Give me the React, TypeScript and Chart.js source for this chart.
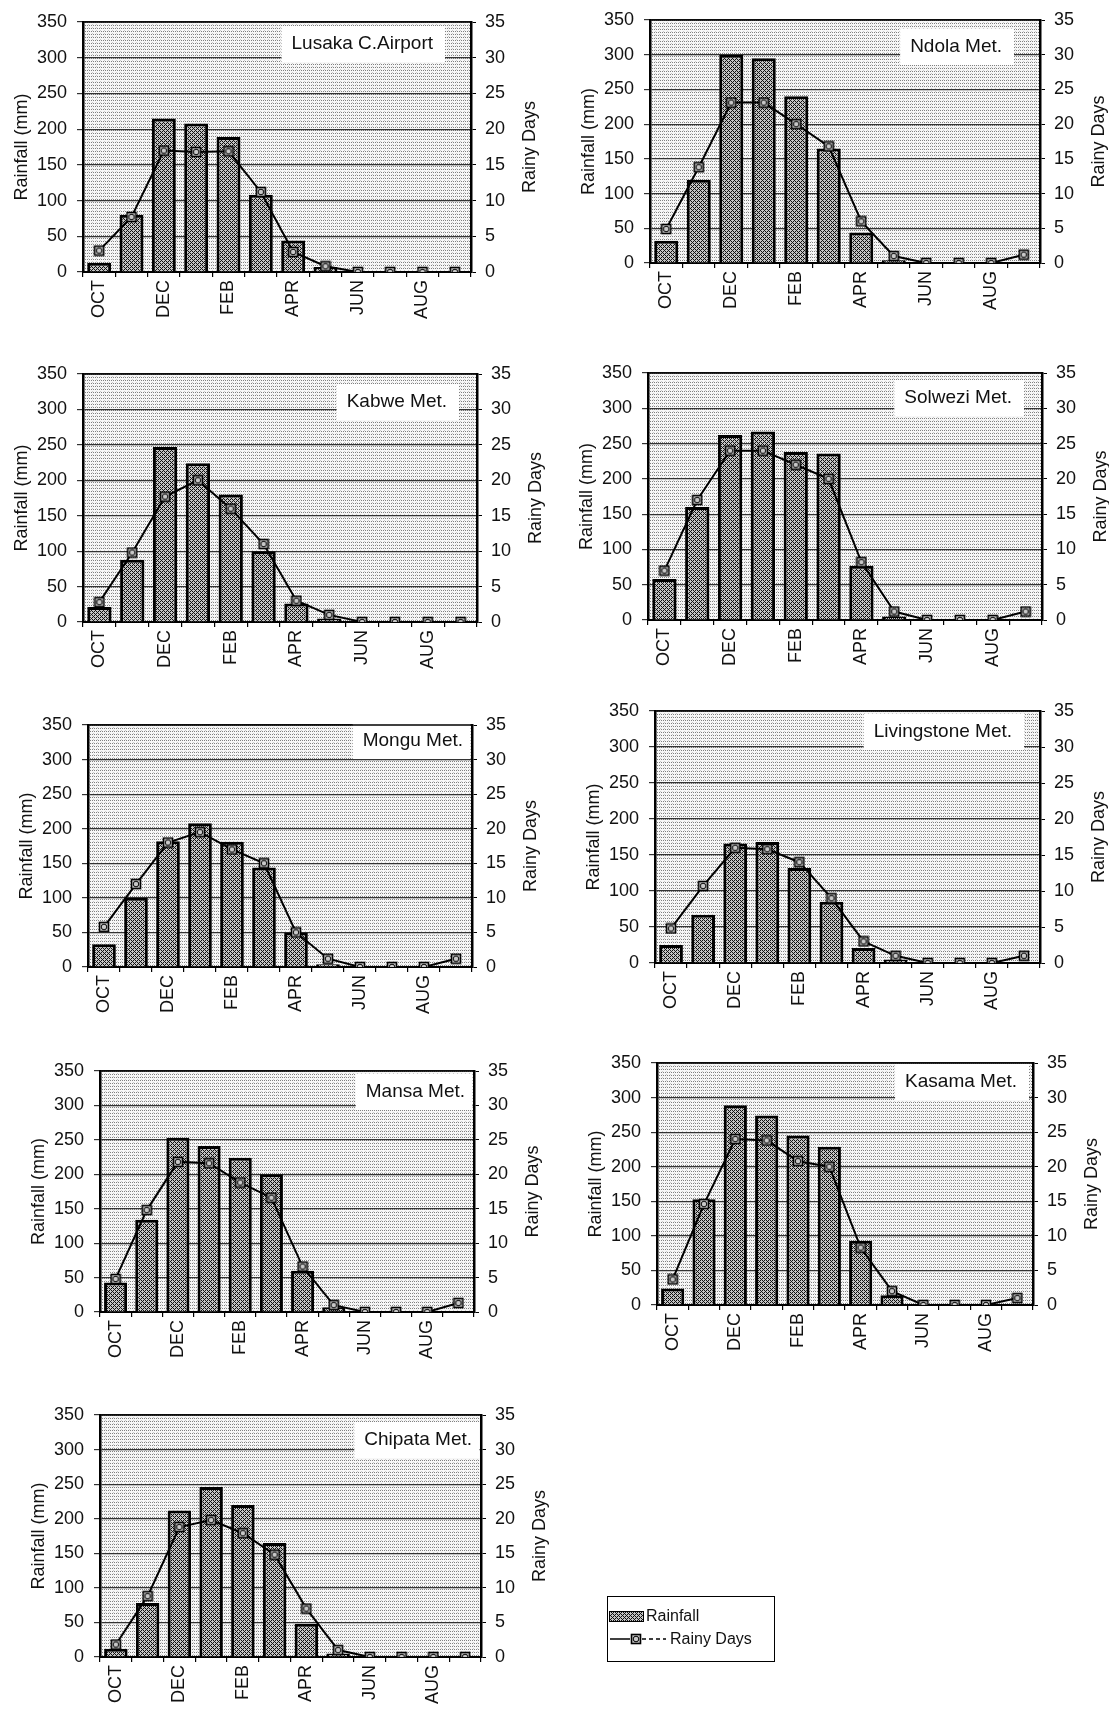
import React, { useEffect, useRef } from 'react';
import { Chart, registerables } from 'chart.js';

Chart.register(...registerables);

// ---------- data ----------
const months = ['OCT', 'NOV', 'DEC', 'JAN', 'FEB', 'MAR', 'APR', 'MAY', 'JUN', 'JUL', 'AUG', 'SEP'];
const monthTickLabels = ['OCT', '', 'DEC', '', 'FEB', '', 'APR', '', 'JUN', '', 'AUG', ''];

const stationNames = [
  'Lusaka C.Airport', 'Ndola Met.', 'Kabwe Met.', 'Solwezi Met.', 'Mongu Met.',
  'Livingstone Met.', 'Mansa Met.', 'Kasama Met.', 'Chipata Met.',
];

const lusakaRain = [13, 80, 215, 208, 189, 108, 44, 7, 0, 0, 0, 0];
const lusakaDays = [3, 7.7, 17, 16.8, 16.9, 11.2, 2.8, 0.8, 0, 0, 0, 0];
const ndolaRain = [32, 120, 300, 295, 240, 165, 44, 4, 0, 0, 0, 0];
const ndolaDays = [4.9, 13.8, 23.1, 23.1, 20, 16.8, 6, 1, 0, 0, 0, 1.2];
const kabweRain = [21, 88, 247, 224, 180, 100, 26, 5, 0, 0, 0, 0];
const kabweDays = [2.8, 9.8, 17.7, 20, 16, 11, 3, 1, 0, 0, 0, 0];
const solweziRain = [58, 160, 262, 267, 238, 236, 77, 5, 0, 0, 0, 0];
const solweziDays = [7, 17, 24, 24, 22, 20, 8.2, 1.2, 0, 0, 0, 1.2];
const monguRain = [33, 100, 182, 208, 181, 144, 50, 4, 0, 0, 0, 0];
const monguDays = [5.8, 12, 18, 19.5, 17, 15, 5, 1.2, 0, 0, 0, 1.2];
const livingstoneRain = [25, 67, 166, 168, 132, 85, 21, 5, 0, 0, 0, 0];
const livingstoneDays = [4.8, 10.7, 16, 15.8, 14, 9, 3, 1, 0, 0, 0, 1];
const mansaRain = [43, 134, 253, 241, 224, 200, 60, 7, 0, 0, 0, 0];
const mansaDays = [4.8, 14.8, 21.8, 21.6, 18.8, 16.6, 6.6, 1, 0, 0, 0, 1.3];
const kasamaRain = [24, 153, 289, 274, 245, 229, 93, 14, 0, 0, 0, 0];
const kasamaDays = [3.7, 14.6, 24, 23.8, 20.8, 20, 8.3, 2, 0, 0, 0, 1];
const chipataRain = [12, 78, 212, 246, 220, 165, 48, 5, 0, 0, 0, 0];
const chipataDays = [1.8, 8.8, 18.8, 19.8, 17.9, 14.8, 7, 1, 0, 0, 0, 0];

const rainSeries = [lusakaRain, ndolaRain, kabweRain, solweziRain, monguRain, livingstoneRain, mansaRain, kasamaRain, chipataRain];
const daysSeries = [lusakaDays, ndolaDays, kabweDays, solweziDays, monguDays, livingstoneDays, mansaDays, kasamaDays, chipataDays];

// ---------- layout (plot area rectangles, page px) ----------
const plotBoxes = [
  { L: 83, T: 22, R: 471, B: 272 },
  { L: 650, T: 20, R: 1040, B: 263 },
  { L: 83, T: 374, R: 477, B: 622 },
  { L: 648, T: 373, R: 1042, B: 620 },
  { L: 88, T: 725, R: 472, B: 967 },
  { L: 655, T: 711, R: 1040, B: 963 },
  { L: 100, T: 1071, R: 474, B: 1312 },
  { L: 657, T: 1063, R: 1033, B: 1305 },
  { L: 100, T: 1415, R: 481, B: 1657 },
];
// station-name box placement inside each plot: inset from right edge, centre offset from top
const labelPlacement = [
  { right: 38, dy: 22 },
  { right: 38, dy: 27 },
  { right: 30, dy: 28 },
  { right: 30, dy: 25 },
  { right: 9, dy: 16 },
  { right: 28, dy: 21 },
  { right: 9, dy: 21 },
  { right: 16, dy: 19 },
  { right: 9, dy: 25 },
];

const FONT = "'Liberation Sans', Arial, sans-serif";
const AXL = 72;
const AXR = 72;
const AXB = 62;
const PADT = 24;

// ---------- patterns ----------
function makeBarTile(): HTMLCanvasElement {
  const c = document.createElement('canvas');
  c.width = 4; c.height = 4;
  const g = c.getContext('2d')!;
  g.fillStyle = '#c4c4c4';
  g.fillRect(0, 0, 4, 4);
  g.fillStyle = '#111';
  for (let x = 0; x < 4; x++) {
    for (let y = 0; y < 4; y++) {
      if ((x + y) % 4 === 0 || (x - y + 4) % 4 === 0) g.fillRect(x, y, 1, 1);
    }
  }
  return c;
}
function makeBgTile(): HTMLCanvasElement {
  const c = document.createElement('canvas');
  c.width = 4; c.height = 3;
  const g = c.getContext('2d')!;
  g.fillStyle = '#f7f7f7';
  g.fillRect(0, 0, 4, 3);
  g.fillStyle = '#808080';
  g.fillRect(0, 0, 1, 1);
  g.fillRect(2, 0, 1, 1);
  g.fillStyle = '#cccccc';
  g.fillRect(1, 2, 1, 1);
  return c;
}
function makeMarker(): HTMLCanvasElement {
  const c = document.createElement('canvas');
  c.width = 12; c.height = 12;
  const g = c.getContext('2d')!;
  g.fillStyle = '#c8c8c8';
  g.fillRect(1, 1, 10, 10);
  g.strokeStyle = '#000';
  g.lineWidth = 1.6;
  g.strokeRect(1.5, 1.5, 9, 9);
  g.lineWidth = 1;
  g.beginPath();
  g.arc(6, 6, 2.8, 0, Math.PI * 2);
  g.stroke();
  return c;
}

const decoPlugin = {
  id: 'deco',
  beforeDraw(chart: any) {
    const { ctx, chartArea: a } = chart;
    ctx.save();
    const pat = ctx.createPattern(makeBgTile(), 'repeat');
    ctx.fillStyle = pat;
    ctx.fillRect(a.left, a.top, a.right - a.left, a.bottom - a.top);
    ctx.restore();
  },
  beforeDatasetsDraw(chart: any, _args: any, opts: any) {
    const { ctx, chartArea: a } = chart;
    ctx.save();
    ctx.font = `19px ${FONT}`;
    const w = ctx.measureText(opts.name).width;
    const xr = a.right - opts.right;
    const yc = a.top + opts.dy;
    const boxRight = Math.min(xr + 12, a.right - 1.5);
    ctx.fillStyle = '#ffffff';
    ctx.fillRect(xr - w - 10, yc - 18, boxRight - (xr - w - 10), 36);
    ctx.fillStyle = '#111';
    ctx.textAlign = 'right';
    ctx.textBaseline = 'middle';
    ctx.fillText(opts.name, xr, yc);
    ctx.restore();
  },
  afterDraw(chart: any) {
    const { ctx, chartArea: a } = chart;
    ctx.save();
    ctx.strokeStyle = '#000';
    ctx.lineWidth = 1.5;
    ctx.beginPath();
    ctx.moveTo(a.left, a.top);
    ctx.lineTo(a.right, a.top);
    ctx.stroke();
    ctx.translate(a.right + 59, (a.top + a.bottom) / 2);
    ctx.rotate(-Math.PI / 2);
    ctx.font = `18px ${FONT}`;
    ctx.fillStyle = '#111';
    ctx.textAlign = 'center';
    ctx.textBaseline = 'middle';
    ctx.fillText('Rainy Days', 0, 0);
    ctx.restore();
  },
};

type Box = { L: number; T: number; R: number; B: number };

function StationChart({ name, rain, days, box, place }: { name: string; rain: number[]; days: number[]; box: Box; place: { right: number; dy: number } }) {
  const ref = useRef<HTMLCanvasElement>(null);
  const w = box.R - box.L + AXL + AXR;
  const h = box.B - box.T + PADT + AXB;
  useEffect(() => {
    const canvas = ref.current!;
    const barPattern = canvas.getContext('2d')!.createPattern(makeBarTile(), 'repeat');
    const marker = makeMarker();
    const tickFont = { family: FONT, size: 18 };
    const chart = new Chart(canvas, {
      type: 'bar',
      data: {
        labels: months,
        datasets: [
          {
            type: 'line',
            label: 'Rainy Days',
            data: days,
            yAxisID: 'y1',
            order: 0,
            borderColor: '#000',
            borderWidth: 2,
            pointStyle: marker as any,
            pointRadius: 6,
            tension: 0,
          } as any,
          {
            type: 'bar',
            label: 'Rainfall',
            data: rain,
            yAxisID: 'y',
            order: 1,
            backgroundColor: barPattern as any,
            borderColor: '#000',
            borderWidth: 3,
            barPercentage: 0.74,
            categoryPercentage: 1,
          } as any,
        ],
      },
      options: {
        responsive: false,
        animation: false,
        devicePixelRatio: 1,
        layout: { padding: { top: PADT, left: 0, right: 0, bottom: 0 } },
        plugins: {
          legend: { display: false },
          tooltip: { enabled: false },
          deco: { name, right: place.right, dy: place.dy },
        } as any,
        scales: {
          x: {
            offset: true,
            grid: { display: true, offset: true, drawOnChartArea: false, drawTicks: true, tickLength: 5, color: '#000', lineWidth: 1.2 },
            border: { display: true, color: '#000', width: 2 },
            ticks: {
              autoSkip: false,
              maxRotation: 90,
              minRotation: 90,
              padding: 3,
              color: '#111',
              font: tickFont,
              callback: (_v: any, i: number) => monthTickLabels[i],
            },
            afterFit: (s: any) => { s.height = AXB; },
          },
          y: {
            position: 'left',
            min: 0,
            max: 350,
            ticks: { stepSize: 50, padding: 10, color: '#111', font: tickFont },
            grid: { color: '#333', lineWidth: 1.2, drawTicks: true, tickLength: 6 },
            border: { display: true, color: '#000', width: 2.5 },
            title: { display: true, text: 'Rainfall (mm)', color: '#111', font: { family: FONT, size: 18 }, padding: 0 },
            afterFit: (s: any) => { s.width = AXL; },
          },
          y1: {
            position: 'right',
            min: 0,
            max: 35,
            ticks: { stepSize: 5, padding: 9, color: '#111', font: tickFont },
            grid: { drawOnChartArea: false, drawTicks: true, tickLength: 5, color: '#000' },
            border: { display: true, color: '#000', width: 2.5 },
            afterFit: (s: any) => { s.width = AXR; },
          },
        },
      } as any,
      plugins: [decoPlugin as any],
    });
    return () => chart.destroy();
  }, []);
  return (
    <canvas
      ref={ref}
      width={w}
      height={h}
      style={{ position: 'absolute', left: box.L - AXL, top: box.T - PADT, width: w, height: h }}
    />
  );
}

function LegendBox() {
  const ref = useRef<HTMLCanvasElement>(null);
  useEffect(() => {
    const c = ref.current!;
    const g = c.getContext('2d')!;
    g.clearRect(0, 0, c.width, c.height);
    g.fillStyle = g.createPattern(makeBarTile(), 'repeat')!;
    g.fillRect(1, 14, 35, 11);
    g.strokeStyle = '#000';
    g.lineWidth = 1;
    g.strokeRect(1.5, 14.5, 34, 10);
    g.lineWidth = 1.5;
    g.beginPath();
    g.moveTo(2, 42); g.lineTo(22, 42);
    g.stroke();
    g.setLineDash([4, 3]);
    g.beginPath();
    g.moveTo(34, 42); g.lineTo(58, 42);
    g.stroke();
    g.setLineDash([]);
    g.drawImage(makeMarker(), 22, 36);
  }, []);
  return (
    <div
      style={{
        position: 'absolute', left: 607, top: 1596, width: 168, height: 66,
        border: '1.5px solid #000', boxSizing: 'border-box', background: '#fff',
        fontFamily: FONT, fontSize: 16, color: '#111',
      }}
    >
      <canvas ref={ref} width={62} height={62} style={{ position: 'absolute', left: 0, top: 0 }} />
      <span style={{ position: 'absolute', left: 38, top: 10, lineHeight: '18px' }}>Rainfall</span>
      <span style={{ position: 'absolute', left: 62, top: 33, lineHeight: '18px' }}>Rainy Days</span>
    </div>
  );
}

export default function App() {
  return (
    <div
      style={{
        position: 'absolute', left: 0, top: 0, width: 1109, height: 1712,
        overflow: 'hidden', background: '#fff', fontFamily: FONT,
      }}
    >
      {plotBoxes.map((box, i) => (
        <StationChart
          key={i}
          name={stationNames[i]}
          rain={rainSeries[i]}
          days={daysSeries[i]}
          box={box}
          place={labelPlacement[i]}
        />
      ))}
      <LegendBox />
    </div>
  );
}
